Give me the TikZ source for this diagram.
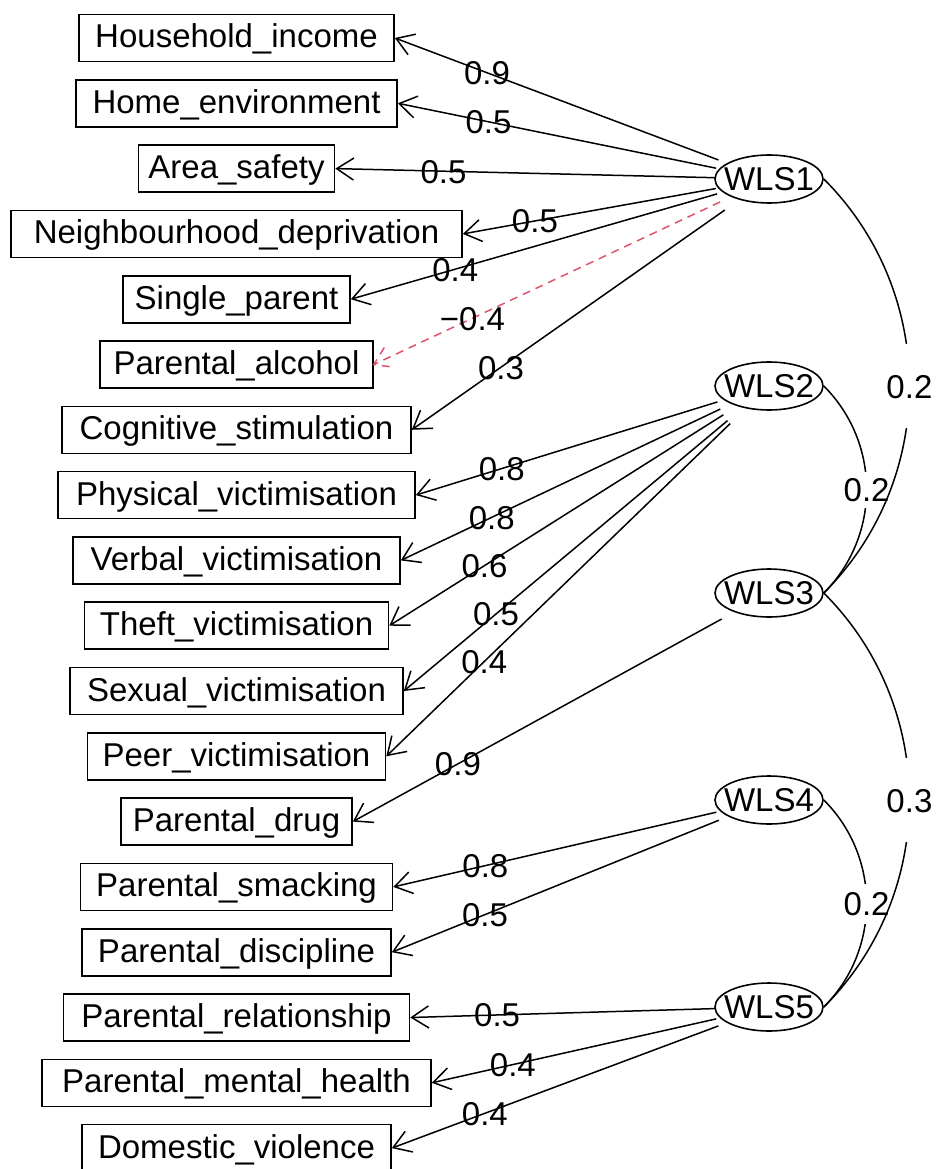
\documentclass[tikz,border=0pt]{standalone}
\usepackage{fontspec}
\setmainfont{Liberation Sans}
\usetikzlibrary{arrows.meta,calc,shapes.geometric}
\definecolor{negred}{HTML}{DF536B}
\tikzset{
  txt/.style={font=\fontsize{33}{36}\selectfont},
  manifest/.style={txt, draw, rectangle, line width=1.6pt, minimum height=47pt,
    inner sep=0pt, text height=24pt, text depth=4pt},
  latent/.style={draw, ellipse, line width=1.6pt, minimum width=108pt,
    minimum height=48pt, inner sep=0pt},
  loading/.style={line width=1.5pt, -{Straight Barb[length=17pt,width=22pt]}},
  negload/.style={line width=1.5pt, negred, dash pattern=on 8pt off 6pt},
  lbl/.style={txt, inner sep=0pt, text height=24pt, text depth=0pt, pos=0.715},
  cov/.style={line width=1.5pt},
  covlbl/.style={txt, fill=white, inner sep=0pt, minimum width=44pt,
    text height=24pt, text depth=0pt},
}
\begin{document}
\begin{tikzpicture}[x=1pt,y=-1pt]
\useasboundingbox (0,0) rectangle (936,1169);

% indicator boxes, one row every 65.3pt
\foreach \n/\t/\w [count=\i from 0] in {
  hh/Household\_income/315,
  he/Home\_environment/321,
  as/Area\_safety/196,
  nd/Neighbourhood\_deprivation/451,
  sp/Single\_parent/227,
  pa/Parental\_alcohol/273,
  cs/Cognitive\_stimulation/349,
  pv/Physical\_victimisation/357,
  vv/Verbal\_victimisation/327,
  tv/Theft\_victimisation/304,
  sv/Sexual\_victimisation/333,
  ev/Peer\_victimisation/298,
  pd/Parental\_drug/231,
  ps/Parental\_smacking/312,
  pc/Parental\_discipline/309,
  pr/Parental\_relationship/346,
  pm/Parental\_mental\_health/389,
  dv/Domestic\_violence/309}
  \node[manifest, minimum width=\w pt] (\n) at (236.5, 38+65.3*\i) {\t};

% latent factors
\foreach \k/\y in {1/179, 2/386, 3/593, 4/800, 5/1007}
  \node[latent, label={[txt]center:WLS\k}] (L\k) at (769,\y) {};

% factor loadings
\foreach \n/\v in {hh/0.9, he/0.5, as/0.5, nd/0.5, sp/0.4, cs/0.3}
  \draw[loading] ($(L1)!54pt!(\n.east)$) -- node[lbl]{\v} (\n.east);
\draw[negload] ($(L1)!54pt!(pa.east)$) coordinate (negstart)
  -- node[lbl, text=black]{−0.4} (pa.east);
\draw[negload] ($(pa.east)!20pt!33:(negstart)$) -- (pa.east)
  -- ($(pa.east)!20pt!-33:(negstart)$);

\foreach \n/\v in {pv/0.8, vv/0.8, tv/0.6, sv/0.5, ev/0.4}
  \draw[loading] ($(L2)!54pt!(\n.east)$) -- node[lbl]{\v} (\n.east);
\draw[loading] ($(L3)!54pt!(pd.east)$) -- node[lbl]{0.9} (pd.east);
\foreach \n/\v in {ps/0.8, pc/0.5}
  \draw[loading] ($(L4)!54pt!(\n.east)$) -- node[lbl]{\v} (\n.east);
\foreach \n/\v in {pr/0.5, pm/0.4, dv/0.4}
  \draw[loading] ($(L5)!54pt!(\n.east)$) -- node[lbl]{\v} (\n.east);

% factor covariances
\draw[cov] (L2.east) to[out=-45,in=45] node[covlbl, minimum height=36pt]{0.2} (L3.east);
\draw[cov] (L1.east) to[out=-45,in=45] node[covlbl, minimum height=84pt]{0.2} (L3.east);
\draw[cov] (L4.east) to[out=-45,in=45] node[covlbl, minimum height=40pt]{0.2} (L5.east);
\draw[cov] (L3.east) to[out=-45,in=45] node[covlbl, minimum height=84pt]{0.3} (L5.east);
\end{tikzpicture}
\end{document}
